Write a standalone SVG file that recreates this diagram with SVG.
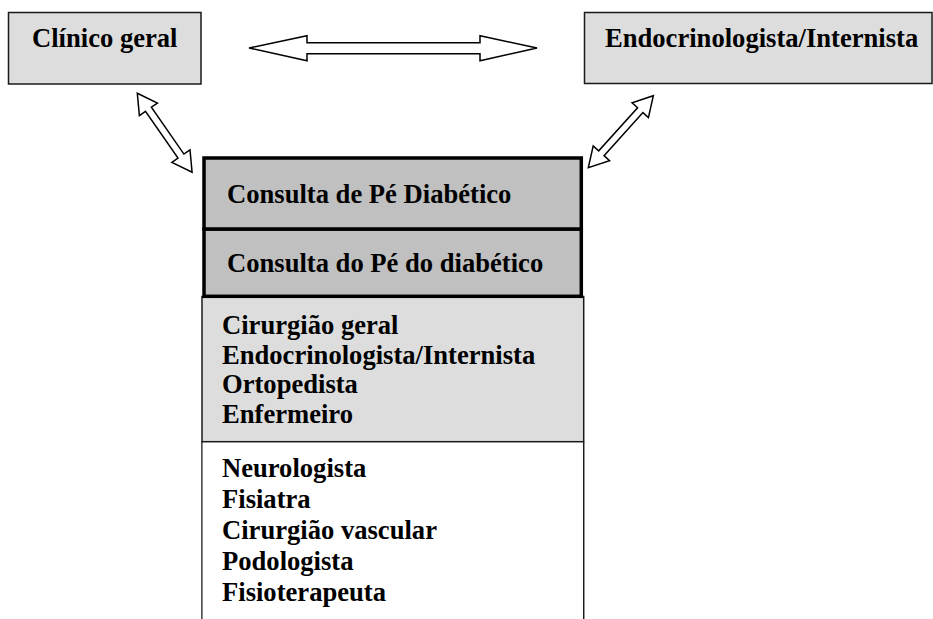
<svg xmlns="http://www.w3.org/2000/svg" width="933" height="619" viewBox="0 0 933 619">
<style>
.t{font-family:"Liberation Serif","Times New Roman",serif;font-weight:bold;font-size:26.6px;fill:#000}
.top{fill:#dddddd;stroke:#1a1a1a;stroke-width:1.5}
.main{fill:#c0c0c0;stroke:#000;stroke-width:3.5}
.list{fill:#dddddd;stroke:#1a1a1a;stroke-width:1.5}
.arr{fill:#fff;stroke:#000;stroke-width:1.5;stroke-linejoin:miter}
</style>
<rect width="933" height="619" fill="#fff"/>
<g id="clinico">
<rect class="top" x="8.5" y="12.5" width="192.5" height="71.5"/>
<text class="t" x="32" y="47">Clínico geral</text>
</g>
<g id="endocrino">
<rect class="top" x="584.5" y="12.5" width="347.5" height="71"/>
<text class="t" x="605" y="47">Endocrinologista/Internista</text>
</g>
<g id="lista2">
<path class="list" d="M202,441.7 V619 M583.7,441.7 V619" fill="none"/>
<rect x="202.7" y="442.5" width="380.3" height="176.5" fill="#fff"/>
<text class="t" x="222" y="477">Neurologista</text>
<text class="t" x="222" y="508">Fisiatra</text>
<text class="t" x="222" y="539">Cirurgião vascular</text>
<text class="t" x="222" y="570">Podologista</text>
<text class="t" x="222" y="601">Fisioterapeuta</text>
</g>
<g id="lista1">
<rect class="list" x="202" y="296.5" width="381.7" height="145.2"/>
<text class="t" x="222" y="334">Cirurgião geral</text>
<text class="t" x="222" y="364">Endocrinologista/Internista</text>
<text class="t" x="222" y="393">Ortopedista</text>
<text class="t" x="222" y="423">Enfermeiro</text>
</g>
<g id="consulta2">
<rect class="main" x="204" y="229" width="377.3" height="67.3"/>
<text class="t" x="227" y="272">Consulta do Pé do diabético</text>
</g>
<g id="consulta1">
<rect class="main" x="204" y="158" width="377.3" height="71"/>
<text class="t" x="227" y="203">Consulta de Pé Diabético</text>
</g>
<g id="connectors">
<polygon class="arr" points="249,48 307,35.7 307,42.7 480,42.7 480,35.7 537,48 480,60.7 480,53.7 307,53.7 307,60.7"/>
<polygon class="arr" transform="translate(137.3,93.3) rotate(55.2)" points="0,0 19.5,-11 19.5,-3.6 76.5,-3.6 76.5,-11 96,0 76.5,11 76.5,3.6 19.5,3.6 19.5,11"/>
<polygon class="arr" transform="translate(588.3,167.7) rotate(-47.9)" points="0,0 19.5,-11 19.5,-3.6 77.5,-3.6 77.5,-11 97,0 77.5,11 77.5,3.6 19.5,3.6 19.5,11"/>
</g>
</svg>
